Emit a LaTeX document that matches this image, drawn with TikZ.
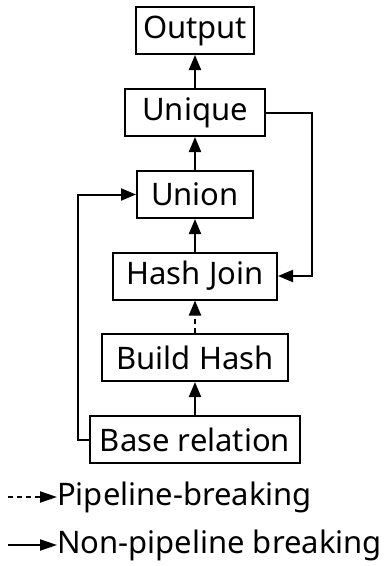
\documentclass[tikz,border=0pt]{standalone}
\usepackage{fontspec}
\setmainfont{Noto Sans}
\usetikzlibrary{arrows.meta}
\begin{document}
\begin{tikzpicture}[x=1pt,y=-1pt,
  op/.style={draw, line width=2pt, inner sep=0pt, minimum height=47pt, font=\fontsize{31}{36}\selectfont},
  flow/.style={line width=2pt, -{Triangle[length=15pt,width=12pt]}},
  brk/.style={flow, dash pattern=on 5pt off 4pt},
  legflow/.style={line width=2pt, -{Triangle[length=17pt,width=11pt]}},
  legbrk/.style={legflow, dash pattern=on 5pt off 4pt},
  legtext/.style={anchor=west, inner sep=0pt, font=\fontsize{31}{36}\selectfont}]
\useasboundingbox (0,0) rectangle (387,566);
\fill[white] (0,0) rectangle (387,566);

% operator boxes
\node[op, minimum width=118pt] (out)   at (195,30.5)  {Output};
\node[op, minimum width=140pt] (uniq)  at (195,112.5) {Unique};
\node[op, minimum width=116pt] (union) at (195,194.5) {Union};
\node[op, minimum width=164pt] (hj)    at (195,276)   {Hash Join};
\node[op, minimum width=186pt] (bh)    at (195,357.5) {Build Hash};
\node[op, minimum width=210pt] (base)  at (195,439.5) {Base relation};

% data flow
\draw[flow] (uniq) -- (out);
\draw[flow] (union) -- (uniq);
\draw[flow] (hj) -- (union);
\draw[brk]  (bh) -- (hj);
\draw[flow] (base) -- (bh);
\draw[flow] (base.west) -| (78,194.5) -- (union.west);
\draw[flow] (uniq.east) -| (312,276) -- (hj.east);

% legend
\coordinate (l1a) at (8,497);
\coordinate (l2a) at (8,545);
\node[legtext] (l1) at (57,497) {Pipeline-breaking};
\node[legtext] (l2) at (57,545) {Non-pipeline breaking};
\draw[legbrk]  (l1a) -- (l1.west);
\draw[legflow] (l2a) -- (l2.west);
\end{tikzpicture}
\end{document}
